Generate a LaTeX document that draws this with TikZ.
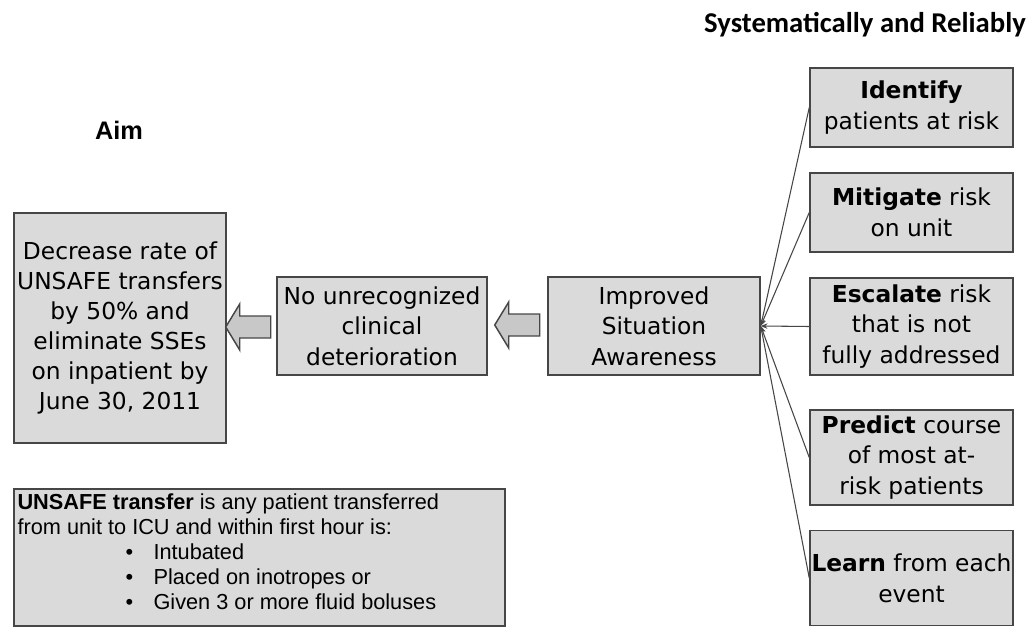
\documentclass[tikz,border=0pt]{standalone}
\usepackage{fontspec}
\setmainfont{DejaVu Sans}
\newfontfamily\calfont{Carlito}
\newfontfamily\arialfont{Liberation Sans}
\usepackage{tikz}
\usetikzlibrary{arrows.meta, calc}
\definecolor{boxgray}{RGB}{218,218,218}
\definecolor{edgegray}{RGB}{70,70,70}
\definecolor{arrowgray}{RGB}{200,200,200}
\tikzset{
  bigbox/.style={
    rectangle, draw=edgegray, fill=boxgray, line width=1.1pt,
    inner sep=1pt, align=center,
    font=\fontsize{17.5}{23}\selectfont
  },
  stepbox/.style={
    bigbox, minimum width=152.25pt
  },
  heading/.style={font=\calfont\bfseries\fontsize{21.5}{24}\selectfont},
  fanline/.style={-{Stealth[length=5pt,width=4pt]}, edgegray, line width=0.8pt},
  blockarrow/.style={draw=edgegray, fill=arrowgray, line width=1.1pt, line join=miter},
}
\newcommand{\fatarrow}[2]{% tip, shaft length
  \draw[blockarrow] #1 -- ++(14,-23) -- ++(0,12) -- ++(#2,0) -- ++(0,22)
    -- ++(-#2,0) -- ++(0,12) -- cycle;}

\begin{document}
\begin{tikzpicture}[x=0.75pt, y=-0.75pt]
  \useasboundingbox (0,0) rectangle (1033,628);

  %% Headings
  \node[heading] (sysrel) at (865,25) {Systematically and Reliably};
  \node[font=\arialfont\bfseries\fontsize{19}{22}\selectfont] (aimlbl) at (119,130) {Aim};

  %% Main chain
  \node[bigbox, minimum width=159pt, minimum height=172.5pt, font=\fontsize{17.5}{22.5}\selectfont]
    (aim) at (120,328) {Decrease rate of\\UNSAFE transfers\\by 50\% and\\eliminate SSEs\\on inpatient by\\June 30, 2011};
  \node[bigbox, minimum width=157.5pt, minimum height=73.5pt]
    (norec) at (382,326) {No unrecognized\\clinical\\deterioration};
  \node[bigbox, minimum width=159pt, minimum height=73.5pt]
    (aware) at (654,326) {Improved\\Situation\\Awareness};

  %% Block arrows
  \fatarrow{($(aim.east)+(-1,-1)$)}{31}
  \fatarrow{($(norec.east)+(7,-1)$)}{31}

  %% Right column
  \node[stepbox, minimum height=59.25pt] (ident) at (911.5,107.5)
    {\textbf{Identify}\\patients at risk};
  \node[stepbox, minimum height=59.25pt] (mitig) at (911.5,212.5)
    {\textbf{Mitigate} risk\\on unit};
  \node[stepbox, minimum height=72.75pt] (escal) at (911.5,326.5)
    {\textbf{Escalate} risk\\that is not\\fully addressed};
  \node[stepbox, minimum height=71.25pt] (predi) at (911.5,457.5)
    {\textbf{Predict} course\\of most at-\\risk patients};
  \node[stepbox, minimum height=71.25pt] (learn) at (911.5,578)
    {\textbf{Learn} from each\\event};

  %% Fan of connectors
  \foreach \from in {ident, mitig, escal, predi, learn}
    \draw[fanline] (\from.west) -- (aware.east);

  %% Definition box
  \node[bigbox, minimum width=368.25pt, minimum height=102.75pt] (defbox) at (259.5,557.5) {};
  \node[anchor=north west, inner sep=0pt, align=left,
        font=\arialfont\fontsize{16.3}{18.75}\selectfont]
    (deftext) at ($(defbox.north west)+(4,5)$)
    {\textbf{UNSAFE transfer} is any patient transferred\\
     from unit to ICU and within first hour is:\\
     \hspace*{81pt}\makebox[21pt][l]{\textbullet}Intubated\\
     \hspace*{81pt}\makebox[21pt][l]{\textbullet}Placed on inotropes or\\
     \hspace*{81pt}\makebox[21pt][l]{\textbullet}Given 3 or more fluid boluses};

\end{tikzpicture}
\end{document}
